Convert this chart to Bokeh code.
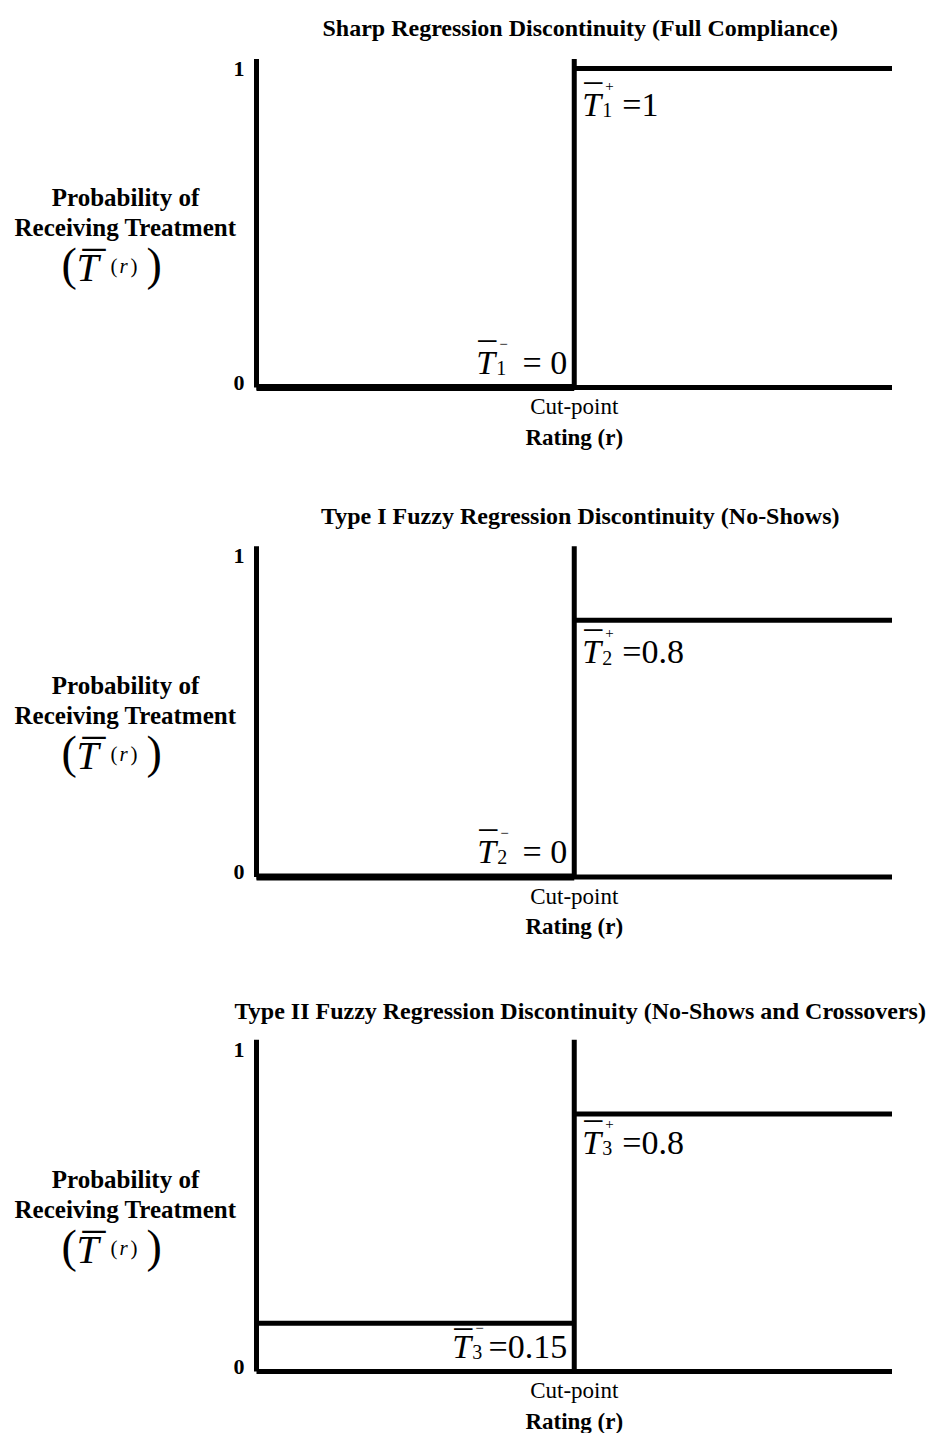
from bokeh.plotting import figure
from bokeh.models import Range1d, Label
from bokeh.layouts import column
from bokeh.embed import file_html
from bokeh.resources import INLINE

# ---- data ----
titles = [
    "Sharp Regression Discontinuity (Full Compliance)",
    "Type I Fuzzy Regression Discontinuity (No-Shows)",
    "Type II Fuzzy Regression Discontinuity (No-Shows and Crossovers)",
]
subscripts = ["1", "2", "3"]
t_below = [0.0, 0.0, 0.15]      # probability of treatment just below the cut-point
t_above = [1.0, 0.8, 0.8]       # probability of treatment just above the cut-point
below_text = ["= 0", "= 0", "=0.15"]
above_text = ["=1", "=0.8", "=0.8"]
rating_min, cut_point, rating_max = 0, 50, 100
y_ticks = [0, 1]
y_tick_labels = ["0", "1"]
x_tick_label = "Cut-point"
x_title = "Rating (r)"
y_title = ["Probability of", "Receiving Treatment"]
axis_top = 1.03

# ---- layout / style (pixels) ----
SERIF = "Liberation Serif"
FIG_W = 941
PANEL_H = [490, 494, 449]
Y_ONE = [68, 65.5, 65]         # px from panel top where probability 1 sits
Y_ZERO = [387, 386.5, 387]     # px from panel top where probability 0 sits
X_MIN_PX, X_MAX_PX = 256, 891.5
TITLE_DY = [41, 40, 39]
TICK_DY = [5, 0]
PLUS_DY = [47, 43, 40]          # px from level line down to label baseline
MINUS_DX = [-98, -97, -122]     # px from cut-point to the T of the lower label
MINUS_BAR = [24, 24, 19.5]      # overbar height of the lower label
MATH = 34
LW = 5
BASE_FIX = 0.33                 # alphabetic-baseline correction (fraction of size)

xs = (X_MAX_PX - X_MIN_PX) / (rating_max - rating_min)
x_lo = rating_min - X_MIN_PX / xs
x_hi = x_lo + FIG_W / xs


def lab(p, x, y, text, dx=0, dy=0, size=20, style="normal", align="left",
        baseline="alphabetic"):
    if baseline == "alphabetic":
        dy = dy + BASE_FIX * size
    p.add_layout(Label(x=x, y=y, x_offset=dx, y_offset=dy, text=text,
                       text_font=SERIF, text_font_size=f"{size}px",
                       text_font_style=style, text_align=align,
                       text_baseline=baseline, text_color="black"))


def tbar(p, x, y, dx, dy, sub, sup, bar=24, size=MATH):
    """T with overbar, subscript and superscript; (dx, dy) = T left / baseline."""
    lab(p, x, y, "T", dx, dy, size, "italic")
    lab(p, x, y, "\u2013", dx + 2, dy + bar, 36)
    lab(p, x, y, sub, dx + 20, dy - 1, 20)
    lab(p, x, y, sup, dx + 23, dy + 25, 15)


figs = []
for i in range(3):
    s = Y_ZERO[i] - Y_ONE[i]
    y_lo = -(PANEL_H[i] - Y_ZERO[i]) / s
    y_hi = 1 + Y_ONE[i] / s
    p = figure(width=FIG_W, height=PANEL_H[i], output_backend="svg",
               toolbar_location=None, x_axis_location=None, y_axis_location=None,
               x_range=Range1d(x_lo, x_hi), y_range=Range1d(y_lo, y_hi),
               min_border=0, min_border_left=0, min_border_right=0,
               min_border_top=0, min_border_bottom=0)
    p.outline_line_color = None
    p.grid.visible = False
    p.background_fill_color = "white"
    p.border_fill_color = "white"

    # axes lines drawn as data
    p.line([rating_min, rating_min], [0, axis_top], line_color="black", line_width=LW)
    p.line([rating_min, rating_max], [0, 0], line_color="black", line_width=LW)
    p.line([cut_point, cut_point], [0, axis_top], line_color="black", line_width=LW)
    # treatment probability levels
    lw_below = 7 if t_below[i] == 0 else LW
    p.line([rating_min, cut_point], [t_below[i], t_below[i]], line_color="black",
           line_width=lw_below)
    p.line([cut_point, rating_max], [t_above[i], t_above[i]], line_color="black",
           line_width=LW)

    # tick labels
    for t, tl, tdy in zip(y_ticks, y_tick_labels, TICK_DY):
        lab(p, rating_min, t, tl, -12, tdy, 22, "bold", "right", "middle")
    lab(p, cut_point, 0, x_tick_label, 0, -19, 23, "normal", "center", "middle")
    lab(p, cut_point, 0, x_title, 0, -49.5, 23, "bold", "center", "middle")

    # title
    lab(p, cut_point, 1, titles[i], 6, TITLE_DY[i], 24, "bold", "center", "middle")

    # y title
    lab(p, rating_min, 0.5, y_title[0], -131, 31, 25, "bold", "center", "middle")
    lab(p, rating_min, 0.5, y_title[1], -131, 1, 25, "bold", "center", "middle")
    lab(p, rating_min, 0.5, "(", -195, -51.5, 46)
    lab(p, rating_min, 0.5, "T", -180, -52.5, 40, "italic")
    lab(p, rating_min, 0.5, "\u2013", -174, -32.3, 46)
    lab(p, rating_min, 0.5, "(", -146, -44.5, 21)
    lab(p, rating_min, 0.5, "r", -137, -44.5, 21, "italic")
    lab(p, rating_min, 0.5, ")", -126, -44.5, 21)
    lab(p, rating_min, 0.5, ")", -110, -51.5, 46)

    # upper label: T+ = value
    tbar(p, cut_point, t_above[i], 8, -PLUS_DY[i], subscripts[i], "+")
    lab(p, cut_point, t_above[i], above_text[i], 48, -PLUS_DY[i], MATH)
    # lower label: T- = value (sits just above the baseline)
    tbar(p, cut_point, 0, MINUS_DX[i], 14, subscripts[i], "\u2212", MINUS_BAR[i])
    lab(p, cut_point, 0, below_text[i], -7, 14, MATH, align="right")

    figs.append(p)

layout = column(*figs, spacing=0)
open("out.html", "w").write(file_html(layout, INLINE))
